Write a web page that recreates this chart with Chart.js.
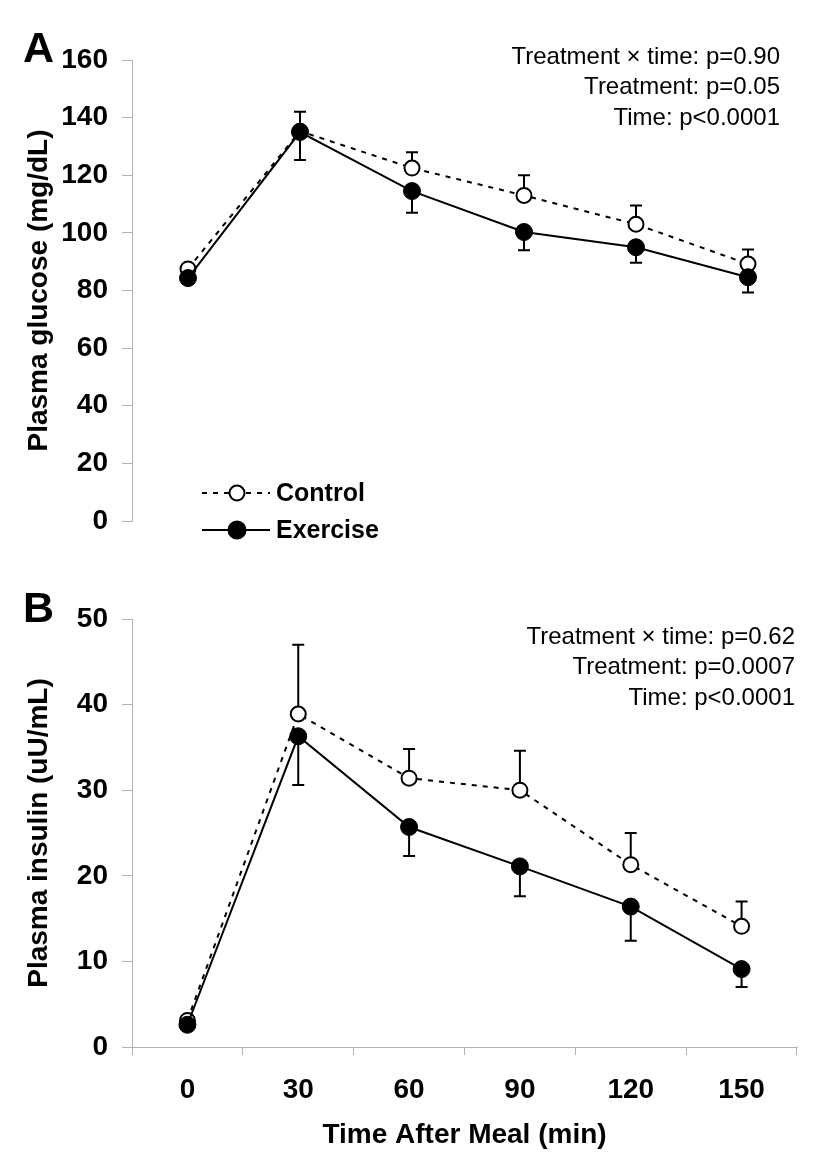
<!DOCTYPE html>
<html>
<head>
<meta charset="utf-8">
<script src="https://cdn.jsdelivr.net/npm/chart.js@4.4.1/dist/chart.umd.min.js"></script>
<style>
  html, body { margin: 0; padding: 0; background: #fff; }
  #wrap { position: relative; width: 822px; height: 1166px; }
  .panel { position: absolute; left: 0; width: 822px; }
  #panelA { top: 0; height: 580px; }
  #panelB { top: 580px; height: 586px; }
</style>
</head>
<body>
<div id="wrap">
  <div class="panel" id="panelA"><canvas id="glucoseChart"></canvas></div>
  <div class="panel" id="panelB"><canvas id="insulinChart"></canvas></div>
</div>
<script>
// Time points (min after meal)
const times = ['0', '30', '60', '90', '120', '150'];

// Panel A: plasma glucose (mg/dL)
const glucoseControl = [87.5, 135.3, 122.5, 113, 103, 89.2];
const glucoseControlErr = [1.5, 6.7, 5.5, 7, 6.5, 5];
const glucoseExercise = [84.3, 135, 114.5, 100.3, 95, 84.6];
const glucoseExerciseErr = [1.5, 9.7, 7.5, 6.3, 5.4, 5.3];
const glucoseTicks = [0, 20, 40, 60, 80, 100, 120, 140, 160];
const glucoseStats = ['Treatment \u00d7 time: p=0.90', 'Treatment: p=0.05', 'Time: p<0.0001'];

// Panel B: plasma insulin (uU/mL)
const insulinControl = [3.1, 38.9, 31.4, 30.0, 21.3, 14.1];
const insulinControlErr = [0.5, 8.1, 3.4, 4.6, 3.7, 2.9];
const insulinExercise = [2.6, 36.3, 25.7, 21.1, 16.4, 9.1];
const insulinExerciseErr = [0.4, 5.7, 3.4, 3.5, 4.0, 2.1];
const insulinTicks = [0, 10, 20, 30, 40, 50];
const insulinStats = ['Treatment \u00d7 time: p=0.62', 'Treatment: p=0.0007', 'Time: p<0.0001'];

const FONT = '"Liberation Sans", Arial, Helvetica, sans-serif';
const AXIS_GREY = '#b4b4b4';

// one-sided SEM bars: control goes up, exercise goes down
const errorBars = {
    id: 'errorBars',
    beforeDatasetsDraw(chart) {
        const ctx = chart.ctx;
        const y = chart.scales.y;
        ctx.save();
        ctx.strokeStyle = '#000';
        ctx.lineWidth = 2;
        chart.data.datasets.forEach((ds, i) => {
            const meta = chart.getDatasetMeta(i);
            meta.data.forEach((pt, j) => {
                const v = ds.data[j];
                const e = ds.err[j];
                const end = y.getPixelForValue(ds.errDir === 'up' ? v + e : v - e);
                ctx.beginPath();
                ctx.moveTo(pt.x, pt.y);
                ctx.lineTo(pt.x, end);
                ctx.moveTo(pt.x - 6, end);
                ctx.lineTo(pt.x + 6, end);
                ctx.stroke();
            });
        });
        ctx.restore();
    }
};

// panel letter, stats text and (optional) legend drawn on top
const panelText = {
    id: 'panelText',
    afterDraw(chart, args, opts) {
        const ctx = chart.ctx;
        ctx.save();
        ctx.fillStyle = '#000';
        ctx.textBaseline = 'alphabetic';
        ctx.textAlign = 'left';
        ctx.font = 'bold 43px ' + FONT;
        ctx.fillText(opts.letter, 23, opts.letterY);

        ctx.font = '24px ' + FONT;
        ctx.textAlign = 'right';
        ctx.textBaseline = 'middle';
        opts.stats.forEach((s, i) => ctx.fillText(s, opts.statsX, opts.statsY + i * 30.5));

        if (opts.legend) {
            const L = opts.legend;
            chart.data.datasets.forEach((ds, i) => {
                const yy = L.y + i * L.gap;
                ctx.beginPath();
                ctx.setLineDash(ds.borderDash || []);
                ctx.lineWidth = 2;
                ctx.strokeStyle = '#000';
                ctx.moveTo(L.x, yy);
                ctx.lineTo(L.x + 68, yy);
                ctx.stroke();
                ctx.setLineDash([]);
                ctx.beginPath();
                ctx.arc(L.x + 35, yy, ds.pointRadius, 0, Math.PI * 2);
                ctx.fillStyle = ds.pointBackgroundColor;
                ctx.fill();
                ctx.stroke();
                ctx.fillStyle = '#000';
                ctx.font = 'bold 25px ' + FONT;
                ctx.textAlign = 'left';
                ctx.fillText(ds.label, L.x + 74, yy + 1);
            });
        }
        ctx.restore();
    }
};

function makeDatasets(ctrl, ctrlErr, exer, exerErr) {
    return [
        {
            label: 'Control', data: ctrl, err: ctrlErr, errDir: 'up', order: 1,
            borderColor: '#000', borderWidth: 2, borderDash: [5, 6],
            pointRadius: 7.5, pointBorderWidth: 2, pointBorderColor: '#000',
            pointBackgroundColor: '#fff', tension: 0
        },
        {
            label: 'Exercise', data: exer, err: exerErr, errDir: 'down', order: 0,
            borderColor: '#000', borderWidth: 2,
            pointRadius: 8.5, pointBorderWidth: 1, pointBorderColor: '#000',
            pointBackgroundColor: '#000', tension: 0
        }
    ];
}

function yScale(max, title, tickList) {
    return {
        min: 0, max: max,
        afterFit: s => { s.width = 114; },
        afterBuildTicks: s => { s.ticks = tickList.map(v => ({ value: v })); },
        border: { display: true, color: AXIS_GREY, width: 1 },
        grid: { drawOnChartArea: false, drawTicks: true, tickLength: 10, color: AXIS_GREY },
        ticks: { color: '#000', padding: 14, font: { family: FONT, size: 28, weight: 'bold' } },
        title: { display: true, text: title, color: '#000', font: { family: FONT, size: 28, weight: 'bold' } }
    };
}

const common = {
    responsive: true,
    maintainAspectRatio: false,
    animation: false,
    events: [],
    plugins: { legend: { display: false }, tooltip: { enabled: false } }
};

new Chart(document.getElementById('glucoseChart'), {
    type: 'line',
    data: { labels: times, datasets: makeDatasets(glucoseControl, glucoseControlErr, glucoseExercise, glucoseExerciseErr) },
    options: Object.assign({}, common, {
        layout: { padding: { left: 18, right: 18, top: 60, bottom: 59 } },
        scales: {
            x: { display: false, offset: true },
            y: yScale(160, 'Plasma glucose (mg/dL)', glucoseTicks)
        },
        plugins: Object.assign({}, common.plugins, {
            panelText: {
                letter: 'A', letterY: 62, stats: glucoseStats, statsX: 780, statsY: 57,
                legend: { x: 202, y: 493, gap: 37 }
            }
        })
    }),
    plugins: [errorBars, panelText]
});

new Chart(document.getElementById('insulinChart'), {
    type: 'line',
    data: { labels: times, datasets: makeDatasets(insulinControl, insulinControlErr, insulinExercise, insulinExerciseErr) },
    options: Object.assign({}, common, {
        layout: { padding: { left: 18, right: 25, top: 39, bottom: 10 } },
        scales: {
            x: {
                offset: true,
                afterFit: s => { s.height = 109; },
                border: { display: true, color: AXIS_GREY, width: 1 },
                grid: { offset: true, drawOnChartArea: false, drawTicks: true, tickLength: 8, color: AXIS_GREY },
                ticks: { color: '#000', padding: 18, maxRotation: 0, font: { family: FONT, size: 28, weight: 'bold' } },
                title: { display: true, text: 'Time After Meal (min)', color: '#000', font: { family: FONT, size: 28, weight: 'bold' } }
            },
            y: yScale(50, 'Plasma insulin (uU/mL)', insulinTicks)
        },
        plugins: Object.assign({}, common.plugins, {
            panelText: { letter: 'B', letterY: 42, stats: insulinStats, statsX: 795, statsY: 57 }
        })
    }),
    plugins: [errorBars, panelText]
});
</script>
</body>
</html>
